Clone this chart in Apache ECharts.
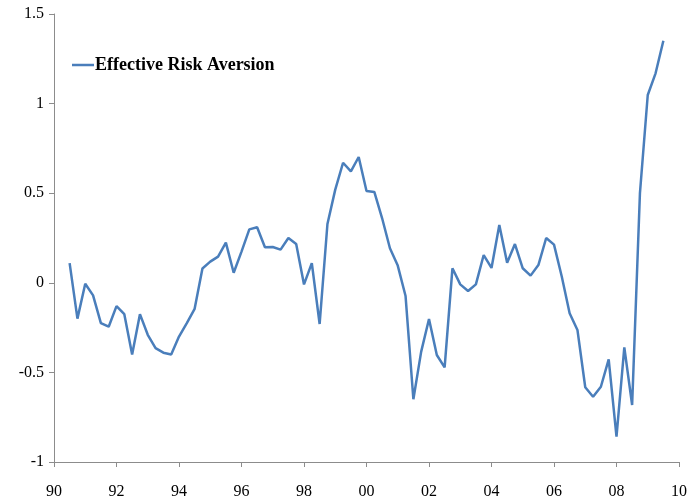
<!DOCTYPE html>
<html>
<head>
<meta charset="utf-8">
<script src="https://cdn.jsdelivr.net/npm/echarts@6/dist/echarts.min.js"></script>
<style>
html,body{margin:0;padding:0;background:#fff;}
#chart{width:688px;height:497px;}
</style>
</head>
<body>
<div id="chart"></div>
<script>
// Quarterly observations starting 1990 Q3 (1990.5) through 2009 Q3 (2009.5)
const startYear = 1990.5;
const seriesName = 'Effective Risk Aversion';
const riskAversion = [
  0.11, -0.20,
  -0.005, -0.07, -0.225, -0.245,
  -0.13, -0.175, -0.40, -0.175,
  -0.29, -0.365, -0.39, -0.40,
  -0.30, -0.225, -0.145, 0.08,
  0.118, 0.146, 0.224, 0.056,
  0.174, 0.298, 0.31, 0.198,
  0.20, 0.185, 0.25, 0.217,
  -0.009, 0.11, -0.23, 0.328,
  0.52, 0.67, 0.622, 0.702,
  0.512, 0.507, 0.36, 0.193,
  0.096, -0.074, -0.65, -0.384,
  -0.202, -0.403, -0.472, 0.081,
  -0.009, -0.046, -0.009, 0.155,
  0.083, 0.323, 0.112, 0.216,
  0.081, 0.04, 0.099, 0.25,
  0.213, 0.034, -0.17, -0.263,
  -0.583, -0.636, -0.58, -0.427,
  -0.859, -0.36, -0.682, 0.50,
  1.048, 1.169, 1.351
];
const xMin = 1990, xMax = 2010, xStep = 2;
const yMin = -1, yMax = 1.5, yStep = 0.5;

const points = riskAversion.map((v, i) => [startYear + i * 0.25, v]);

const chart = echarts.init(document.getElementById('chart'));
const axisFont = { fontFamily: 'Liberation Serif', fontSize: 16, color: '#000' };
chart.setOption({
  animation: false,
  backgroundColor: '#fff',
  grid: { left: 54, right: 9, top: 14, bottom: 35, containLabel: false, outerBoundsMode: 'none' },
  legend: {
    left: 67, top: 51,
    icon: 'rect',
    itemWidth: 22, itemHeight: 2.5,
    itemGap: 2,
    textStyle: { fontFamily: 'Liberation Serif', fontSize: 18, fontWeight: 'bold', color: '#000', padding: [0,0,0,-4] },
    data: [seriesName]
  },
  xAxis: {
    type: 'value', min: xMin, max: xMax, interval: xStep,
    axisLine: { show: true, onZero: false, lineStyle: { color: '#8c8c8c', width: 1 } },
    axisTick: { show: true, length: 5, lineStyle: { color: '#8c8c8c' } },
    splitLine: { show: false },
    axisLabel: Object.assign({ margin: 22, formatter: v => String(v % 100).padStart(2, '0') }, axisFont)
  },
  yAxis: {
    type: 'value', min: yMin, max: yMax, interval: yStep,
    axisLine: { show: true, lineStyle: { color: '#8c8c8c', width: 1 } },
    axisTick: { show: true, length: 5, lineStyle: { color: '#8c8c8c' } },
    splitLine: { show: false },
    axisLabel: Object.assign({ margin: 10 }, axisFont)
  },
  series: [{
    name: seriesName,
    type: 'line',
    data: points,
    symbol: 'none',
    lineStyle: { color: '#4a7ebb', width: 2.5 },
    itemStyle: { color: '#4a7ebb' }
  }]
});
</script>
</body>
</html>
